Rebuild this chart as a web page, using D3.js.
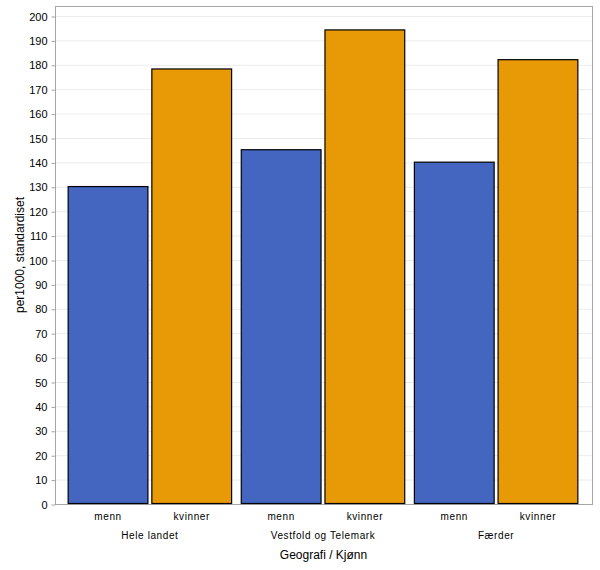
<!DOCTYPE html>
<html>
<head>
<meta charset="utf-8">
<script src="https://cdn.jsdelivr.net/npm/d3@7"></script>
<style>
  body { margin: 0; background: #fff; }
  text { font-family: "Liberation Sans", Arial, sans-serif; fill: #000; }
</style>
</head>
<body>
<div id="chart"></div>
<script>
const w = 600
const h = 570
const margin = { top: 6, right: 8, bottom: 66, left: 55 }

// Data
const regions = [ "Hele landet", "Vestfold og Telemark", "Færder" ]
const sexes = [ "menn", "kvinner" ]
const menn = [ 130.3, 145.4, 140.3 ]
const kvinner = [ 178.5, 194.5, 182.3 ]
const yTicks = d3.range(0, 201, 10)

const colors = { menn: "#4466c1", kvinner: "#e89a06" }

const svg = d3.select("#chart")
              .append("svg")
                .attr("width", w)
                .attr("height", h)

const x0 = d3.scaleBand()
              .domain(regions)
              .range([margin.left + 4, w - margin.right - 5])
              .paddingInner(0.05)
              .paddingOuter(0.05)

const x1 = d3.scaleBand()
              .domain(sexes)
              .range([0, x0.bandwidth()])
              .paddingInner(0.035)

const y = d3.scaleLinear()
            .domain([0, 200])
            .range([h - margin.bottom, margin.top + 10])

// gridlines
svg.append("g")
    .selectAll("line")
    .data(yTicks.filter(d => d > 0))
    .join("line")
      .attr("x1", margin.left)
      .attr("x2", w - margin.right)
      .attr("y1", d => y(d) + 0.5)
      .attr("y2", d => y(d) + 0.5)
      .attr("stroke", "#ececec")

// frame
svg.append("rect")
    .attr("x", margin.left + 0.5)
    .attr("y", margin.top + 0.5)
    .attr("width", w - margin.right - margin.left)
    .attr("height", h - margin.bottom - margin.top)
    .attr("fill", "none")
    .attr("stroke", "#a6a6a6")

// bars
const rows = regions.map((r, i) => ({ region: r, values: [
  { sex: "menn", value: menn[i] },
  { sex: "kvinner", value: kvinner[i] }
] }))

svg.append("g")
    .selectAll("g")
    .data(rows)
    .join("g")
      .attr("transform", d => `translate(${x0(d.region)}, 0)`)
    .selectAll("rect")
    .data(d => d.values)
    .join("rect")
      .attr("x", d => x1(d.sex) + 0.5)
      .attr("y", d => y(d.value) + 0.5)
      .attr("width", x1.bandwidth() - 1)
      .attr("height", d => y(0) - y(d.value) - 1)
      .attr("fill", d => colors[d.sex])
      .attr("stroke", "#000")
      .attr("stroke-width", 1.2)

// y axis
const yAxis = svg.append("g")
    .attr("transform", `translate(${margin.left + 0.5}, 0.5)`)
    .call(d3.axisLeft(y).tickValues(yTicks).tickSize(4).tickPadding(4))
yAxis.select(".domain").remove()
yAxis.selectAll("line").attr("stroke", "#a6a6a6")
yAxis.selectAll("text").style("font-size", "11px").style("font-family", "Liberation Sans, Arial, sans-serif")

// x labels (sex)
const xLab = svg.append("g")
rows.forEach(r => {
  sexes.forEach(s => {
    xLab.append("text")
        .attr("x", x0(r.region) + x1(s) + x1.bandwidth() / 2)
        .attr("y", h - margin.bottom + 16)
        .attr("text-anchor", "middle")
        .style("font-size", "10px")
        .style("letter-spacing", "0.6px")
        .text(s)
  })
  xLab.append("text")
      .attr("x", x0(r.region) + x0.bandwidth() / 2)
      .attr("y", h - margin.bottom + 35)
      .attr("text-anchor", "middle")
      .style("font-size", "10px")
      .style("letter-spacing", "0.6px")
      .text(r.region)
})

// axis titles
svg.append("text")
    .attr("x", (margin.left + w - margin.right) / 2)
    .attr("y", h - 11)
    .attr("text-anchor", "middle")
    .style("font-size", "12px")
    .text("Geografi / Kjønn")

svg.append("text")
    .attr("transform", `translate(24, ${(margin.top + h - margin.bottom) / 2}) rotate(-90)`)
    .attr("text-anchor", "middle")
    .style("font-size", "12px")
    .text("per1000, standardiset")
</script>
</body>
</html>
